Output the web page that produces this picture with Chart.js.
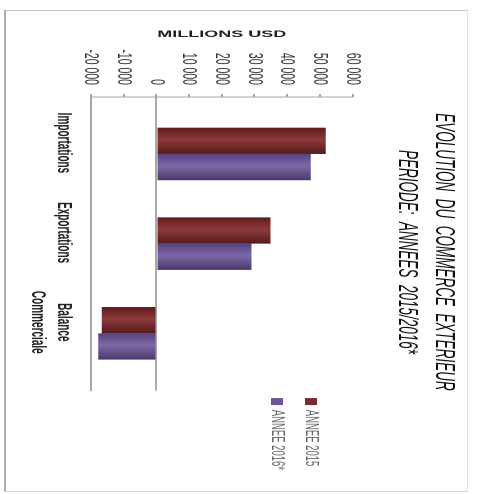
<!DOCTYPE html>
<html>
<head>
<meta charset="utf-8">
<script src="https://cdn.jsdelivr.net/npm/chart.js@4.4.0/dist/chart.umd.min.js"></script>
<style>
  html, body { margin: 0; padding: 0; background: #fff; overflow: hidden; width: 477px; height: 494px; }
  #frame { position: absolute; left: 4px; top: 10px; width: 464px; height: 482px; box-sizing: border-box;
           border-top: 1px solid #c8c8c8; border-right: 1px solid #e4e4e4; border-bottom: 1px solid #d8d8d8; border-left: 2px solid #b0b0b0; }
  /* the chart is laid out as a column chart, then turned a quarter turn clockwise and narrowed */
  #wrap { position: absolute; left: 0; top: 0; width: 988px; height: 477px; transform-origin: 0 0;
          transform: translate(477px, 0) rotate(90deg) scaleX(0.5); }
</style>
</head>
<body>
<div id="frame"></div>
<div id="wrap"><canvas id="c" width="988" height="477"></canvas></div>
<script>
const categories = ['Importations', 'Exportations', ['Balance', 'Commerciale']];
const seriesNames = ['ANNEE 2015', 'ANNEE 2016*'];
const values2015 = [51800, 34900, -16700];
const values2016 = [47200, 29100, -17800];
const valueTicks = [-20000, -10000, 0, 10000, 20000, 30000, 40000, 50000, 60000];
const titleLines = ['EVOLUTION  DU  COMMERCE  EXTERIEUR', 'PERIODE:  ANNEES  2015/2016*'];
const axisTitle = 'MILLIONS USD';

const FONT = "'Liberation Sans', Arial, sans-serif";
const GRID = '#a8a8a8';
const CAT_PCT = 0.586;
const seriesShades = [
  ['#5e1b1e', '#8d3a3b', '#561a1c'],
  ['#54427e', '#7d68a7', '#49386b']
];
const legendColors = ['#7a2a2d', '#6c579a'];

// thousands separated by a space, French style
function fmt(v) {
  const s = String(Math.abs(v)).replace(/\B(?=(\d{3})+(?!\d))/g, ' ');
  return (v < 0 ? '-' : '') + s;
}

// shaded fill across each bar's thickness
function barFill(ctx) {
  const chart = ctx.chart;
  const pal = seriesShades[ctx.datasetIndex];
  const xs = chart.scales && chart.scales.x;
  if (!chart.chartArea || !xs || ctx.dataIndex === undefined) return pal[1];
  const unit = xs.getPixelForValue(1) - xs.getPixelForValue(0);
  const group = unit * CAT_PCT;
  const start = xs.getPixelForValue(ctx.dataIndex) - group / 2 + ctx.datasetIndex * group / 2;
  const g = chart.ctx.createLinearGradient(start, 0, start + group / 2, 0);
  g.addColorStop(0, pal[0]);
  g.addColorStop(0.45, pal[1]);
  g.addColorStop(1, pal[2]);
  return g;
}

const seriesValues = [values2015, values2016];

new Chart(document.getElementById('c'), {
  type: 'bar',
  data: {
    datasets: seriesNames.map((name, s) => ({
      label: name,
      data: seriesValues[s].map((v, i) => ({ x: i, y: v })),
      backgroundColor: barFill,
      borderWidth: 0,
      categoryPercentage: CAT_PCT,
      barPercentage: 1
    }))
  },
  options: {
    responsive: false,
    animation: false,
    events: [],
    layout: { padding: { left: 58, right: 38, top: 0, bottom: 0 } },
    plugins: {
      title: {
        display: true,
        text: titleLines,
        color: '#111',
        font: { family: FONT, size: 27, weight: 'normal', style: 'italic', lineHeight: 1.37 },
        padding: { top: 14.5, bottom: 36 }
      },
      legend: {
        position: 'right',
        align: 'start',
        fullSize: false,
        title: { display: true, text: '', padding: { top: 16, bottom: 0 }, font: { size: 1, lineHeight: 1 } },
        labels: {
          boxWidth: 14,
          boxHeight: 12,
          padding: 15,
          color: '#222',
          font: { family: FONT, size: 19 },
          generateLabels: chart => chart.data.datasets.map((d, i) => ({
            text: d.label, fillStyle: legendColors[i], strokeStyle: legendColors[i],
            lineWidth: 0, hidden: false, datasetIndex: i
          }))
        }
      },
      tooltip: { enabled: false }
    },
    scales: {
      x: {
        type: 'linear',
        min: -0.635,
        max: 2.638,
        offset: false,
        grid: { display: false, drawTicks: false, offset: false },
        border: { display: true, color: GRID, width: 2 },
        afterBuildTicks: s => { s.ticks = categories.map((_, i) => ({ value: i })); },
        afterFit: s => { s.height = 91; },
        ticks: {
          callback: v => categories[v],
          padding: 14,
          labelOffset: -22,
          autoSkip: false,
          maxRotation: 0,
          color: '#222',
          font: { family: FONT, size: 20, weight: 'bold', lineHeight: 1.3 }
        }
      },
      y: {
        min: valueTicks[0],
        max: valueTicks[valueTicks.length - 1],
        afterBuildTicks: s => { s.ticks = valueTicks.map(v => ({ value: v })); },
        afterFit: s => { s.width = 136; },
        grid: {
          color: c => (c.tick && c.tick.value === 0 ? GRID : 'rgba(0,0,0,0)'),
          tickColor: GRID,
          tickLength: 6,
          lineWidth: 2
        },
        border: { display: true, color: GRID, width: 2 },
        ticks: { callback: fmt, padding: 18, color: '#333', font: { family: FONT, size: 21 } },
        title: {
          display: true,
          text: axisTitle,
          color: '#222',
          font: { family: FONT, size: 18, weight: 'bold' },
          padding: { top: 0, bottom: 0 }
        }
      }
    }
  }
});
</script>
</body>
</html>
